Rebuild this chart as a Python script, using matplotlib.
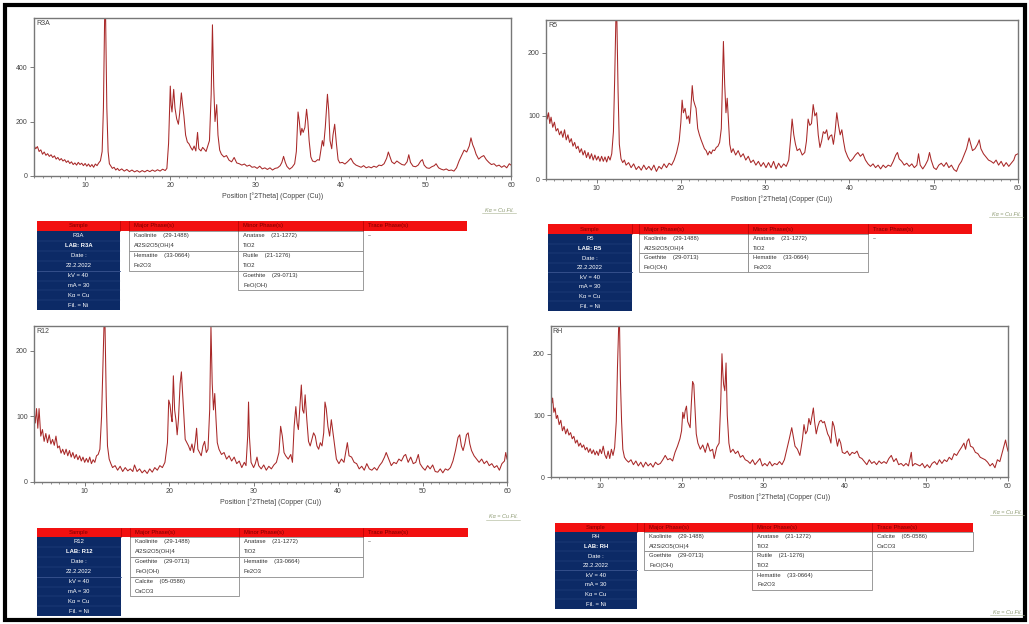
import matplotlib.pyplot as plt
from matplotlib.patches import Rectangle

plt.rcParams['font.family'] = ['Liberation Sans', 'DejaVu Sans']

W, H = 1029, 624

# XRD patterns: (position 2theta, counts)
r3a = [(4.0,112),(4.2,100),(4.4,108),(4.6,90),(4.8,96),(5.0,80),(5.2,88),(5.4,76),(5.6,82),(5.8,72),(6.0,78),(6.2,68),(6.4,74),(6.6,62),(6.8,68),(7.0,58),(7.2,64),(7.4,55),(7.6,60),(7.8,50),(8.0,56),(8.2,46),(8.4,52),(8.6,42),(8.8,48),(9.0,40),(9.2,50),(9.4,42),(9.6,47),(9.8,38),(10.0,46),(10.2,36),(10.4,44),(10.6,34),(10.8,42),(11.0,32),(11.2,44),(11.4,38),(11.6,48),(11.8,56),(12.0,90),(12.15,250),(12.3,600),(12.4,600),(12.55,250),(12.7,90),(12.85,45),(13.0,38),(13.2,28),(13.4,32),(13.6,22),(13.8,28),(14.0,20),(14.3,26),(14.6,18),(14.9,24),(15.2,16),(15.5,22),(15.8,15),(16.1,20),(16.4,14),(16.7,20),(17.0,15),(17.3,21),(17.6,16),(17.9,22),(18.2,17),(18.5,23),(18.8,18),(19.1,25),(19.4,20),(19.6,28),(19.8,120),(20.0,330),(20.1,260),(20.2,235),(20.4,318),(20.55,250),(20.75,210),(20.95,190),(21.1,230),(21.3,305),(21.45,260),(21.6,220),(21.8,150),(22.0,125),(22.2,118),(22.4,105),(22.6,95),(22.8,110),(23.0,92),(23.2,160),(23.35,100),(23.6,92),(23.8,105),(24.0,98),(24.2,90),(24.4,110),(24.6,130),(24.8,300),(24.95,555),(25.1,330),(25.25,200),(25.45,262),(25.6,150),(25.8,95),(26.0,80),(26.3,70),(26.6,75),(26.9,58),(27.2,52),(27.5,68),(27.8,48),(28.1,45),(28.4,40),(28.7,44),(29.0,36),(29.3,40),(29.6,32),(29.9,34),(30.2,28),(30.5,36),(30.8,26),(31.1,30),(31.4,24),(31.7,30),(32.0,22),(32.3,28),(32.6,30),(32.9,38),(33.1,50),(33.3,72),(33.5,50),(33.7,35),(34.0,25),(34.3,32),(34.6,45),(34.8,90),(35.0,235),(35.15,200),(35.3,150),(35.45,175),(35.6,160),(35.8,178),(36.0,245),(36.15,200),(36.3,130),(36.5,70),(36.7,55),(37.0,52),(37.3,60),(37.5,58),(37.7,100),(37.85,130),(38.0,110),(38.2,180),(38.45,300),(38.6,240),(38.75,130),(38.95,100),(39.1,150),(39.3,190),(39.5,120),(39.7,60),(39.9,48),(40.2,50),(40.5,44),(40.8,52),(41.2,65),(41.5,48),(41.8,40),(42.1,36),(42.4,32),(42.7,38),(43.0,30),(43.3,34),(43.6,30),(43.9,36),(44.2,32),(44.5,40),(44.8,38),(45.1,45),(45.4,65),(45.6,88),(45.8,70),(46.0,52),(46.3,45),(46.6,55),(46.9,48),(47.2,42),(47.5,40),(47.8,52),(48.0,78),(48.2,50),(48.5,36),(48.8,34),(49.1,40),(49.4,55),(49.6,60),(49.8,40),(50.1,30),(50.4,28),(50.7,34),(51.0,38),(51.2,45),(51.5,30),(51.8,25),(52.1,22),(52.4,26),(52.7,20),(53.0,22),(53.3,18),(53.6,30),(53.9,55),(54.2,75),(54.5,95),(54.8,88),(55.1,110),(55.3,140),(55.5,115),(55.7,100),(55.9,80),(56.2,62),(56.5,70),(56.8,75),(57.1,60),(57.4,50),(57.7,42),(58.0,45),(58.3,36),(58.6,40),(58.9,32),(59.2,38),(59.5,30),(59.8,45),(60.0,40)]

r5 = [(4.0,112),(4.15,95),(4.3,105),(4.45,88),(4.6,98),(4.8,82),(5.0,90),(5.2,76),(5.4,80),(5.6,70),(5.8,76),(6.0,66),(6.2,78),(6.4,62),(6.6,70),(6.8,58),(7.0,64),(7.2,52),(7.4,58),(7.6,48),(7.8,52),(8.0,42),(8.2,48),(8.4,38),(8.6,45),(8.8,34),(9.0,42),(9.2,32),(9.4,40),(9.6,30),(9.8,38),(10.0,30),(10.2,36),(10.4,28),(10.6,36),(10.8,28),(11.0,35),(11.2,27),(11.4,36),(11.6,30),(11.8,40),(12.0,75),(12.15,160),(12.3,260),(12.4,260),(12.55,140),(12.7,55),(12.9,32),(13.1,26),(13.3,30),(13.5,22),(13.8,26),(14.1,18),(14.4,24),(14.7,15),(15.0,20),(15.3,14),(15.6,22),(15.9,15),(16.2,20),(16.5,14),(16.8,22),(17.1,12),(17.4,20),(17.7,16),(18.0,24),(18.3,18),(18.6,25),(18.9,22),(19.2,30),(19.5,42),(19.8,60),(20.0,90),(20.15,125),(20.3,105),(20.5,112),(20.7,95),(20.9,100),(21.05,88),(21.2,115),(21.35,148),(21.5,125),(21.65,118),(21.8,112),(22.0,80),(22.2,70),(22.4,62),(22.6,55),(22.8,48),(23.0,45),(23.2,38),(23.4,44),(23.6,40),(23.8,46),(24.0,45),(24.2,50),(24.4,52),(24.6,58),(24.8,80),(24.95,160),(25.05,218),(25.2,150),(25.35,105),(25.5,128),(25.65,90),(25.8,55),(26.0,42),(26.2,48),(26.5,38),(26.8,45),(27.1,35),(27.4,40),(27.7,30),(28.0,36),(28.3,26),(28.6,30),(28.9,22),(29.2,28),(29.5,20),(29.8,26),(30.1,18),(30.4,26),(30.7,18),(31.0,28),(31.3,16),(31.6,25),(31.9,18),(32.2,24),(32.5,20),(32.8,30),(33.0,60),(33.2,95),(33.4,70),(33.6,55),(33.8,45),(34.1,48),(34.4,38),(34.7,42),(34.9,60),(35.1,95),(35.3,85),(35.5,88),(35.7,118),(35.9,100),(36.1,105),(36.3,70),(36.5,50),(36.7,60),(36.9,75),(37.1,72),(37.3,78),(37.5,62),(37.7,68),(37.9,70),(38.1,55),(38.3,75),(38.5,105),(38.7,85),(38.9,70),(39.1,78),(39.3,60),(39.5,45),(39.8,35),(40.1,28),(40.4,32),(40.7,38),(41.0,42),(41.3,36),(41.6,40),(41.9,30),(42.2,24),(42.5,20),(42.8,24),(43.1,18),(43.4,22),(43.7,16),(44.0,22),(44.3,18),(44.6,22),(44.9,20),(45.2,28),(45.5,38),(45.7,42),(45.9,32),(46.2,28),(46.5,22),(46.8,25),(47.1,20),(47.4,24),(47.7,18),(48.0,22),(48.2,40),(48.4,22),(48.7,16),(49.0,22),(49.3,30),(49.5,42),(49.7,30),(50.0,18),(50.3,15),(50.6,22),(50.9,25),(51.2,20),(51.5,26),(51.8,18),(52.1,22),(52.4,15),(52.7,12),(53.0,22),(53.3,28),(53.6,38),(53.9,48),(54.2,65),(54.4,55),(54.6,45),(54.9,48),(55.2,55),(55.4,62),(55.6,48),(55.9,40),(56.2,35),(56.5,30),(56.8,28),(57.1,25),(57.4,30),(57.7,22),(58.0,28),(58.3,20),(58.6,26),(58.9,20),(59.2,25),(59.5,30),(59.7,38),(60.0,40)]

r12 = [(4.0,110),(4.15,90),(4.3,112),(4.45,82),(4.6,112),(4.8,70),(5.0,80),(5.2,62),(5.4,74),(5.6,60),(5.8,72),(6.0,58),(6.2,65),(6.4,56),(6.6,70),(6.8,52),(7.0,55),(7.2,44),(7.4,50),(7.6,42),(7.8,50),(8.0,40),(8.2,48),(8.4,38),(8.6,45),(8.8,36),(9.0,42),(9.2,34),(9.4,40),(9.6,32),(9.8,38),(10.0,30),(10.2,36),(10.4,30),(10.6,38),(10.8,28),(11.0,34),(11.2,30),(11.4,40),(11.6,42),(11.8,50),(12.0,100),(12.15,170),(12.3,245),(12.4,245),(12.55,130),(12.7,55),(12.9,35),(13.1,28),(13.3,22),(13.6,25),(13.9,18),(14.2,24),(14.5,16),(14.8,22),(15.1,17),(15.4,20),(15.7,16),(15.9,26),(16.2,16),(16.5,20),(16.8,14),(17.1,18),(17.4,13),(17.7,20),(18.0,15),(18.3,22),(18.6,18),(18.9,25),(19.2,22),(19.5,30),(19.8,60),(19.95,125),(20.1,118),(20.25,100),(20.35,92),(20.5,162),(20.65,110),(20.8,95),(20.95,72),(21.1,95),(21.3,150),(21.45,168),(21.6,135),(21.75,100),(21.9,65),(22.1,60),(22.3,55),(22.5,48),(22.7,58),(22.9,45),(23.1,62),(23.25,82),(23.4,50),(23.6,45),(23.8,40),(24.0,55),(24.2,62),(24.4,45),(24.6,50),(24.8,110),(24.95,238),(25.1,150),(25.25,110),(25.4,135),(25.55,95),(25.7,60),(25.9,50),(26.2,42),(26.5,45),(26.8,35),(27.1,40),(27.4,32),(27.7,38),(28.0,28),(28.3,32),(28.6,22),(28.9,30),(29.1,25),(29.3,70),(29.4,122),(29.5,70),(29.7,30),(30.0,22),(30.2,28),(30.4,38),(30.6,25),(30.9,20),(31.2,26),(31.5,18),(31.8,24),(32.1,20),(32.4,26),(32.7,30),(33.0,45),(33.2,85),(33.4,70),(33.6,45),(33.8,40),(34.1,35),(34.4,42),(34.6,30),(34.8,85),(35.0,115),(35.15,90),(35.3,80),(35.5,120),(35.65,148),(35.8,110),(35.95,105),(36.1,133),(36.3,95),(36.5,62),(36.7,55),(36.9,65),(37.1,75),(37.3,70),(37.5,55),(37.7,50),(37.9,60),(38.1,55),(38.3,75),(38.45,122),(38.6,112),(38.8,85),(39.0,70),(39.2,95),(39.4,75),(39.6,55),(39.8,35),(40.1,28),(40.4,35),(40.7,30),(40.9,45),(41.1,60),(41.3,40),(41.6,38),(41.9,30),(42.2,28),(42.5,20),(42.8,24),(43.1,18),(43.4,28),(43.7,20),(44.0,18),(44.3,22),(44.6,18),(44.9,25),(45.2,30),(45.5,38),(45.7,45),(46.0,35),(46.3,25),(46.6,30),(46.9,28),(47.2,35),(47.5,32),(47.8,40),(48.0,42),(48.3,30),(48.6,38),(48.9,28),(49.2,30),(49.5,42),(49.7,28),(50.0,22),(50.3,18),(50.6,25),(50.9,20),(51.2,26),(51.5,16),(51.8,15),(52.1,20),(52.4,14),(52.7,20),(53.0,18),(53.3,22),(53.6,32),(53.9,48),(54.2,68),(54.4,72),(54.6,55),(54.8,48),(55.0,58),(55.2,72),(55.4,75),(55.6,58),(55.8,48),(56.1,40),(56.4,35),(56.7,30),(57.0,35),(57.3,28),(57.6,32),(57.9,25),(58.2,28),(58.5,22),(58.8,25),(59.1,18),(59.4,28),(59.7,32),(59.85,45),(60.0,35)]

rh = [(4.0,145),(4.1,120),(4.2,128),(4.35,105),(4.5,112),(4.65,95),(4.8,100),(5.0,85),(5.2,92),(5.4,75),(5.6,82),(5.8,70),(6.0,78),(6.2,68),(6.4,72),(6.6,62),(6.8,66),(7.0,55),(7.2,60),(7.4,50),(7.6,55),(7.8,48),(8.0,52),(8.2,44),(8.4,48),(8.6,40),(8.8,46),(9.0,38),(9.2,44),(9.4,36),(9.6,42),(9.8,35),(10.0,45),(10.2,38),(10.4,50),(10.6,36),(10.8,30),(11.0,42),(11.2,30),(11.4,45),(11.6,35),(11.8,48),(12.0,90),(12.15,180),(12.3,248),(12.4,245),(12.5,160),(12.65,90),(12.8,45),(13.0,32),(13.2,28),(13.5,24),(13.8,28),(14.1,20),(14.4,26),(14.7,18),(15.0,24),(15.3,16),(15.6,24),(15.9,18),(16.2,22),(16.5,16),(16.8,24),(17.1,20),(17.4,22),(17.7,28),(18.0,35),(18.3,28),(18.6,30),(18.9,26),(19.2,40),(19.5,50),(19.8,62),(20.0,75),(20.15,105),(20.3,95),(20.45,108),(20.6,115),(20.75,90),(20.9,85),(21.05,80),(21.2,120),(21.35,155),(21.5,150),(21.65,110),(21.8,70),(22.0,55),(22.3,45),(22.6,52),(22.9,40),(23.2,55),(23.5,42),(23.8,45),(24.0,30),(24.3,48),(24.6,55),(24.8,120),(24.95,200),(25.05,170),(25.15,150),(25.3,140),(25.45,185),(25.6,100),(25.8,55),(26.0,40),(26.3,45),(26.6,38),(26.9,42),(27.2,32),(27.5,35),(27.8,28),(28.1,26),(28.4,22),(28.7,28),(29.0,20),(29.3,25),(29.6,30),(29.9,18),(30.2,22),(30.5,18),(30.8,25),(31.1,18),(31.4,22),(31.7,20),(32.0,25),(32.3,20),(32.6,28),(32.9,45),(33.2,62),(33.5,80),(33.7,65),(33.9,50),(34.2,45),(34.5,35),(34.8,60),(35.0,85),(35.2,70),(35.4,75),(35.6,95),(35.8,85),(36.0,100),(36.15,112),(36.3,90),(36.5,70),(36.7,82),(36.9,90),(37.1,92),(37.3,88),(37.5,90),(37.7,80),(37.9,70),(38.1,65),(38.3,55),(38.5,90),(38.7,82),(38.9,65),(39.1,50),(39.3,62),(39.5,55),(39.7,40),(40.0,38),(40.3,42),(40.6,35),(40.9,40),(41.2,38),(41.5,42),(41.8,32),(42.1,30),(42.4,25),(42.7,20),(43.0,28),(43.3,22),(43.6,25),(43.9,20),(44.2,26),(44.5,22),(44.8,25),(45.1,22),(45.4,30),(45.7,35),(46.0,25),(46.3,30),(46.6,20),(46.9,22),(47.2,18),(47.5,22),(47.8,18),(48.0,30),(48.15,40),(48.3,18),(48.6,22),(48.9,20),(49.2,18),(49.5,22),(49.8,15),(50.1,20),(50.4,15),(50.7,22),(51.0,25),(51.3,20),(51.6,28),(51.9,22),(52.2,28),(52.5,25),(52.8,32),(53.1,28),(53.4,38),(53.7,35),(54.0,42),(54.3,48),(54.6,55),(54.8,45),(55.0,58),(55.2,62),(55.4,50),(55.7,48),(56.0,40),(56.3,38),(56.6,32),(56.9,30),(57.2,28),(57.5,24),(57.8,18),(58.1,22),(58.4,15),(58.7,28),(59.0,25),(59.3,40),(59.5,50),(59.7,60),(59.85,50),(60.0,42)]

# table contents
sample_info = ["LAB: {}", "Date :", "22.2.2022", "kV = 40", "mA = 30", "K\u03b1 = Cu", "Fil. = Ni"]
major_r3a = [("Kaolinite    (29-1488)", "Al2Si2O5(OH)4"), ("Hematite    (33-0664)", "Fe2O3")]
minor_r3a = [("Anatase    (21-1272)", "TiO2"), ("Rutile    (21-1276)", "TiO2"), ("Goethite    (29-0713)", "FeO(OH)")]
trace_r3a = []
major_r5 = [("Kaolinite    (29-1488)", "Al2Si2O5(OH)4"), ("Goethite    (29-0713)", "FeO(OH)")]
minor_r5 = [("Anatase    (21-1272)", "TiO2"), ("Hematite    (33-0664)", "Fe2O3")]
trace_r5 = []
major_r12 = [("Kaolinite    (29-1488)", "Al2Si2O5(OH)4"), ("Goethite    (29-0713)", "FeO(OH)"), ("Calcite    (05-0586)", "CaCO3")]
minor_r12 = [("Anatase    (21-1272)", "TiO2"), ("Hematite    (33-0664)", "Fe2O3")]
trace_r12 = []
major_rh = [("Kaolinite    (29-1488)", "Al2Si2O5(OH)4"), ("Goethite    (29-0713)", "FeO(OH)")]
minor_rh = [("Anatase    (21-1272)", "TiO2"), ("Rutile    (21-1276)", "TiO2"), ("Hematite    (33-0664)", "Fe2O3")]
trace_rh = [("Calcite    (05-0586)", "CaCO3")]

fig = plt.figure(figsize=(W / 100, H / 100), dpi=100)
fig.patch.set_facecolor('white')


def box(l, t, r, b):
    return [l / W, 1 - b / H, (r - l) / W, (b - t) / H]


panels = [
    ("R3A", r3a, (34, 18, 511, 176), 580, [0, 200, 400]),
    ("R5", r5, (546, 20, 1018, 179), 252, [0, 100, 200]),
    ("R12", r12, (34, 326, 507, 482), 238, [0, 100, 200]),
    ("RH", rh, (551, 326, 1008, 477), 245, [0, 100, 200]),
]

for name, data, pos, ymax, yt in panels:
    ax = fig.add_axes(box(*pos))
    xs = [p[0] for p in data]
    ys = [p[1] for p in data]
    ax.plot(xs, ys, color='#a82828', lw=0.75)
    ax.set_xlim(4, 60)
    ax.set_ylim(0, ymax)
    ax.set_xticks([10, 20, 30, 40, 50, 60])
    ax.set_xticks(range(4, 61), minor=True)
    ax.set_yticks(yt)
    ax.tick_params(direction='out', length=3, width=0.6, colors='#666666',
                   labelsize=5, labelcolor='#444444', pad=1.5)
    ax.tick_params(which='minor', direction='out', length=1.5, width=0.5, colors='#666666')
    for s in ax.spines.values():
        s.set_color('#777777')
        s.set_linewidth(1.0)
    ax.set_xlabel("Position [\u00b02Theta] (Copper (Cu))", fontsize=5, color='#444444', labelpad=2)
    ax.text(0.004, 0.99, name, transform=ax.transAxes, fontsize=5, va='top', ha='left', color='#444444')

# overlay in pixel coordinates for the tables and frame
ov = fig.add_axes([0, 0, 1, 1])
ov.set_xlim(0, W)
ov.set_ylim(H, 0)
ov.axis('off')

navy = '#0c2a66'
red = '#f21010'


def draw_table(name, cols, top, hh, rh_, major, minor, trace):
    sl, sr, ml, nl, tl, tr = cols
    ov.add_patch(Rectangle((sl, top), tr - sl, hh, facecolor=red, edgecolor='none'))
    for xv in (sr, ml, nl, tl):
        ov.plot([xv, xv], [top, top + hh], color='#a00000', lw=0.4)
    ov.text((sl + sr) / 2, top + hh / 2, "Sample", fontsize=4.2, color='#7a0000', ha='center', va='center')
    for xv, lab in ((ml, "Major Phase(s)"), (nl, "Minor Phase(s)"), (tl, "Trace Phase(s)")):
        ov.text(xv + 5, top + hh / 2, lab, fontsize=4.2, color='#7a0000', ha='left', va='center')
    y0 = top + hh
    ov.add_patch(Rectangle((sl, y0), sr - sl, 8 * rh_, facecolor=navy, edgecolor='none'))
    rows = [name] + [s.format(name) if '{}' in s else s for s in sample_info]
    for i, s in enumerate(rows):
        ov.text((sl + sr) / 2, y0 + (i + 0.5) * rh_, s, fontsize=4.2, color='white',
                ha='center', va='center', fontweight='bold' if i == 1 else 'normal')
        if i > 0:
            ov.plot([sl, sr], [y0 + i * rh_] * 2, color='#3a5590', lw=0.6 if i == 4 else 0.25)
    for phases, l, r in ((major, ml, nl), (minor, nl, tl), (trace, tl, tr)):
        if not phases:
            ov.text(l + 5, y0 + 0.5 * rh_, "--", fontsize=4.2, color='#333333', va='center')
            continue
        for k, (p, f) in enumerate(phases):
            yb = y0 + 2 * k * rh_
            ov.add_patch(Rectangle((l, yb), r - l, 2 * rh_, facecolor='white', edgecolor='#8a8a8a', lw=0.6))
            ov.text(l + 5, yb + 0.5 * rh_, p, fontsize=4.2, color='#333333', va='center')
            ov.text(l + 5, yb + 1.5 * rh_, f, fontsize=4.2, color='#333333', va='center')


draw_table("R3A", (37, 120, 129, 238, 363, 467), 221, 10, 9.9, major_r3a, minor_r3a, trace_r3a)
draw_table("R5", (548, 632, 639, 748, 868, 972), 224, 10, 9.6, major_r5, minor_r5, trace_r5)
draw_table("R12", (37, 121, 130, 239, 363, 468), 528, 9, 9.9, major_r12, minor_r12, trace_r12)
draw_table("RH", (555, 637, 644, 752, 872, 973), 523, 9, 9.6, major_rh, minor_rh, trace_rh)

for cx, cy in ((499, 210), (1006, 214), (503, 517), (1007, 512), (1007, 612)):
    ov.text(cx, cy, "K\u03b1 = Cu Fil.", fontsize=4, color='#8d9a72', style='italic', ha='center', va='center')
    ov.plot([cx - 17, cx + 17], [cy + 3, cy + 3], color='#a8b290', lw=0.4)

ov.add_patch(Rectangle((5, 5), 1020, 615, facecolor='none', edgecolor='black', lw=3))

fig.savefig('out.png', dpi=100, facecolor='white')
